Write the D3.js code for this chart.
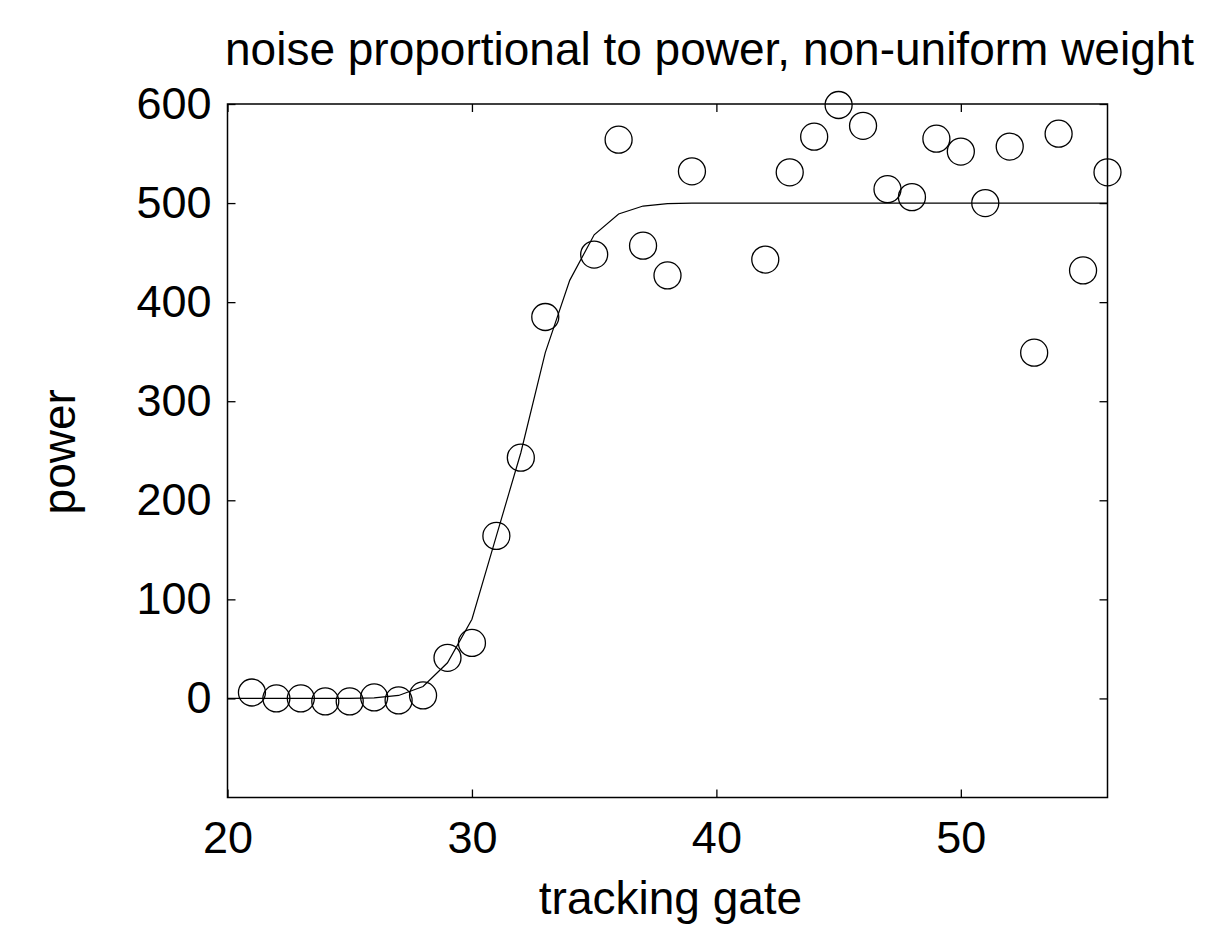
<!DOCTYPE html>
<html>
<head>
<meta charset="utf-8">
<script src="https://cdnjs.cloudflare.com/ajax/libs/d3/7.8.5/d3.min.js"></script>
<style>
  body { margin: 0; background: #fff; }
  svg text { font-family: "Liberation Sans", Arial, Helvetica, sans-serif; fill: #000; }
</style>
</head>
<body>
<div id="chart"></div>
<script>
// Observed data: tracking gate vs power (gates 40 and 41 have no sample)
var gates = [21, 22, 23, 24, 25, 26, 27, 28, 29, 30, 31, 32, 33, 35, 36, 37, 38, 39,
             42, 43, 44, 45, 46, 47, 48, 49, 50, 51, 52, 53, 54, 55, 56];
var powers = [6, 0, 0, -3, -3, 1, -2, 3, 41, 56, 164, 243, 385, 448, 564, 457, 427, 532,
              443, 531, 567, 599, 578, 514, 506, 565, 552, 500, 557, 349, 570, 432, 531];

// Fitted curve, read at each integer gate
var fitGates = [20, 21, 22, 23, 24, 25, 26, 27, 28, 29, 30, 31, 32, 33, 34, 35, 36, 37, 38,
                39, 40, 41, 42, 43, 44, 45, 46, 47, 48, 49, 50, 51, 52, 53, 54, 55, 56];
var fitPowers = [0, 0, 0, 0, 0, 0, 0.5, 3, 12, 36, 80, 164, 248, 349, 422, 468, 489, 497, 499.5,
                 500, 500, 500, 500, 500, 500, 500, 500, 500, 500, 500, 500, 500, 500, 500, 500, 500, 500];

var xTicks = [20, 30, 40, 50];
var yTicks = [0, 100, 200, 300, 400, 500, 600];

var titleText = "noise proportional to power, non-uniform weight";
var xLabel = "tracking gate";
var yLabel = "power";

// SVG area
var svgWidth = 1209;
var svgHeight = 927;

var chartMargin = {
    top: 104,
    right: 101.5,
    bottom: 129.5,
    left: 227.5
};

var chartWidth = svgWidth - chartMargin.left - chartMargin.right;
var chartHeight = svgHeight - chartMargin.top - chartMargin.bottom;

var svg = d3.select("#chart")
  .append("svg")
  .attr("width", svgWidth)
  .attr("height", svgHeight);

var chartGroup = svg.append("g")
  .attr("transform", `translate(${chartMargin.left}, ${chartMargin.top})`);

// Scales
var xScale = d3.scaleLinear()
    .domain([20, 56])
    .range([0, chartWidth]);

var yScale = d3.scaleLinear()
    .domain([-100, 600])
    .range([chartHeight, 0]);

// Axes, ticks pointing inward and mirrored on all four sides
var fontSize = 45;
var labelSize = 46;

var bottomAxis = d3.axisBottom(xScale).tickValues(xTicks).tickSize(-8).tickSizeOuter(0).tickPadding(24);
var leftAxis = d3.axisLeft(yScale).tickValues(yTicks).tickSize(-8).tickSizeOuter(0).tickPadding(16);
var topAxis = d3.axisTop(xScale).tickValues(xTicks).tickSize(-8).tickSizeOuter(0).tickFormat("");
var rightAxis = d3.axisRight(yScale).tickValues(yTicks).tickSize(-8).tickSizeOuter(0).tickFormat("");

function styleAxis(g) {
  g.select(".domain").remove();
  g.selectAll(".tick line").attr("stroke", "#000").attr("stroke-width", 1.3);
  g.selectAll(".tick text")
    .attr("font-size", fontSize)
    .attr("font-family", "Liberation Sans, Arial, Helvetica, sans-serif")
    .attr("fill", "#000");
}

chartGroup.append("g")
    .attr("transform", `translate(0, ${chartHeight})`)
    .call(bottomAxis)
    .call(styleAxis);

chartGroup.append("g")
    .call(leftAxis)
    .call(styleAxis);

chartGroup.append("g")
    .call(topAxis)
    .call(styleAxis);

chartGroup.append("g")
    .attr("transform", `translate(${chartWidth}, 0)`)
    .call(rightAxis)
    .call(styleAxis);

// Fitted curve
var line = d3.line()
    .x((d, i) => xScale(fitGates[i]))
    .y(d => yScale(d));

chartGroup.append("path")
    .datum(fitPowers)
    .attr("d", line)
    .attr("fill", "none")
    .attr("stroke", "#000")
    .attr("stroke-width", 1.2);

// Observed points as open circles
chartGroup.selectAll("circle")
    .data(powers)
    .enter()
    .append("circle")
    .attr("cx", (d, i) => xScale(gates[i]))
    .attr("cy", d => yScale(d))
    .attr("r", 13.5)
    .attr("fill", "none")
    .attr("stroke", "#000")
    .attr("stroke-width", 1.3);

// Frame
chartGroup.append("rect")
    .attr("width", chartWidth)
    .attr("height", chartHeight)
    .attr("fill", "none")
    .attr("stroke", "#000")
    .attr("stroke-width", 1.5);

// Labels
svg.append("text")
    .attr("x", 225)
    .attr("y", 65)
    .attr("font-size", labelSize)
    .text(titleText);

svg.append("text")
    .attr("x", chartMargin.left + chartWidth / 2 + 3)
    .attr("y", 914)
    .attr("text-anchor", "middle")
    .attr("font-size", labelSize)
    .text(xLabel);

svg.append("text")
    .attr("transform", `translate(75, ${chartMargin.top + chartHeight / 2 + 1}) rotate(-90)`)
    .attr("text-anchor", "middle")
    .attr("font-size", labelSize)
    .text(yLabel);
</script>
</body>
</html>
